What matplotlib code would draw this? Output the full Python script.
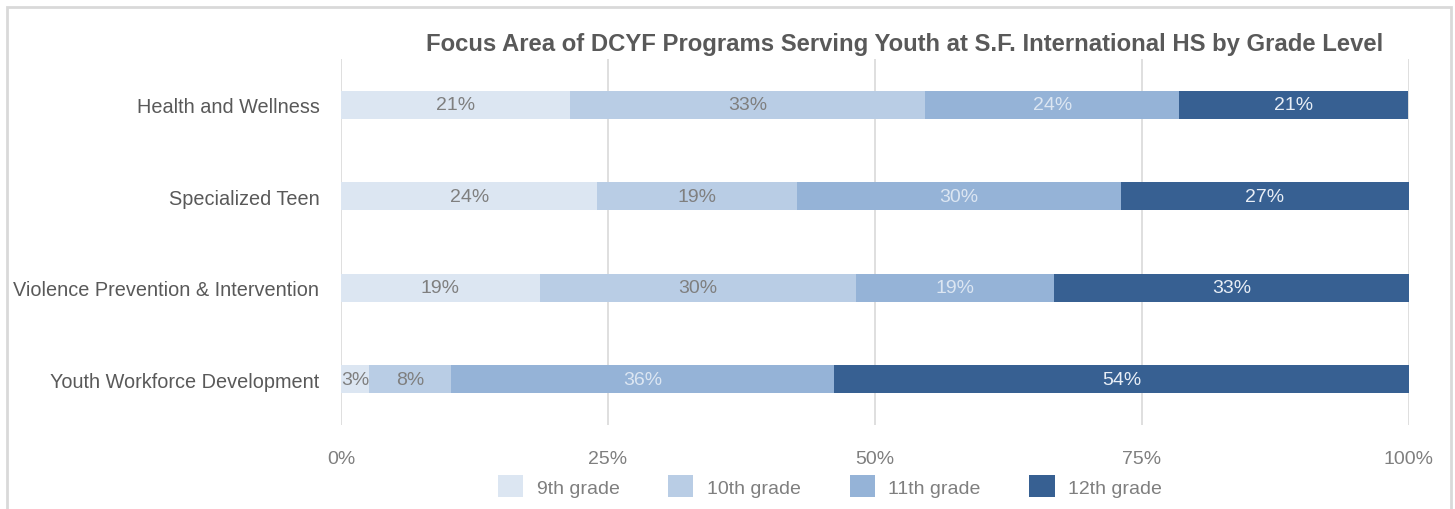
import matplotlib
matplotlib.use("Agg")
import matplotlib.pyplot as plt
from matplotlib.patches import Rectangle
import numpy as np

plt.rcParams['font.family'] = ['Liberation Sans', 'DejaVu Sans']

# 数据：各重点领域中各年级所占比例（%）
categories = ["Health and Wellness", "Specialized Teen",
              "Violence Prevention & Intervention", "Youth Workforce Development"]
grades = ["9th grade", "10th grade", "11th grade", "12th grade"]
grade_9 = [21.4, 24.0, 18.6, 2.6]
grade_10 = [33.3, 18.7, 29.6, 7.7]
grade_11 = [23.8, 30.3, 18.6, 35.9]
grade_12 = [21.4, 27.0, 33.2, 53.8]
x_ticks = [0, 25, 50, 75, 100]
x_tick_labels = ["0%", "25%", "50%", "75%", "100%"]

colors = ["#DCE6F2", "#B9CDE5", "#95B3D7", "#376092"]
label_colors = ["#7F7F7F", "#7F7F7F", "#DCE6F2", "#E8EEF6"]

fig = plt.figure(figsize=(14.55, 5.10), dpi=100)
ax = fig.add_axes([341 / 1455, 1 - 426 / 510, 1068 / 1455, 366 / 510])

y = np.arange(len(categories))
left = np.zeros(len(categories))
series = [grade_9, grade_10, grade_11, grade_12]
for vals, name, c, lc in zip(series, grades, colors, label_colors):
    vals = np.array(vals)
    bars = ax.barh(y, vals, left=left, height=0.31, color=c, label=name,
                   edgecolor="none")
    for b, v in zip(bars, vals):
        ax.text(b.get_x() + b.get_width() / 2, b.get_y() + b.get_height() / 2,
                f"{int(v + 0.5)}%", ha="center", va="center",
                fontsize=14, color=lc)
    left += vals

ax.set_xlim(0, 100)
ax.set_ylim(3.5, -0.5)
ax.set_yticks(y)
ax.set_yticklabels(categories, fontsize=14.3, color="#595959")
ax.set_xticks(x_ticks)
ax.set_xticklabels(x_tick_labels, fontsize=14, color="#7F7F7F")
ax.tick_params(axis="both", length=0)
ax.tick_params(axis="y", pad=15.5)
ax.tick_params(axis="x", pad=18)
ax.xaxis.grid(True, color="#D9D9D9", linewidth=1.2)
ax.set_axisbelow(True)
for s in ax.spines.values():
    s.set_visible(False)

fig.text(905 / 1455, 1 - 45 / 510,
         "Focus Area of DCYF Programs Serving Youth at S.F. International HS by Grade Level",
         ha="center", va="center", fontsize=17.2, fontweight="bold", color="#595959")

fig.legend(loc="center", bbox_to_anchor=(830 / 1455, 1 - 487 / 510), ncol=4,
           frameon=False, fontsize=14, labelcolor="#7F7F7F",
           handlelength=1.3, handleheight=1.3, columnspacing=2.5,
           handletextpad=0.7)

# 外框
fig.patches.append(Rectangle((7 / 1455, -0.05), 1444 / 1455, 1.05 - 8 / 510,
                             transform=fig.transFigure, fill=False,
                             edgecolor="#D9D9D9", linewidth=2))

fig.savefig("out.png", dpi=100)
